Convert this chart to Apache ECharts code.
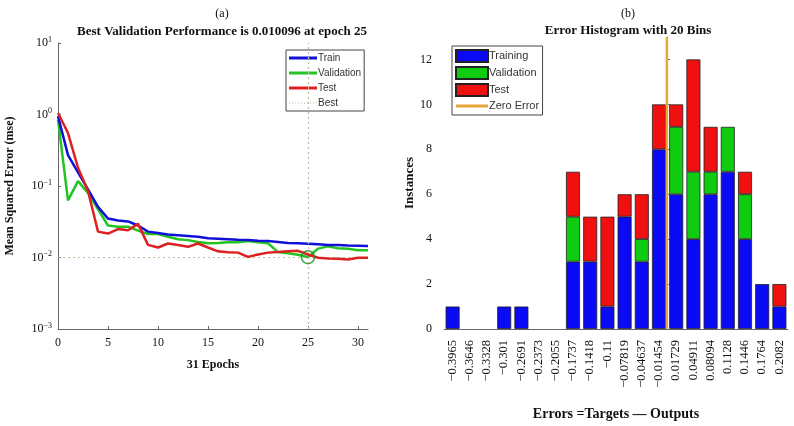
<!DOCTYPE html>
<html>
<head>
<meta charset="utf-8">
<script src="https://cdn.jsdelivr.net/npm/echarts@6/dist/echarts.min.js"></script>
<style>
  html, body { margin: 0; padding: 0; background: #fff; }
  #main { width: 794px; height: 426px; }
</style>
</head>
<body>
<div id="main"></div>
<script>
// (a) performance curves, per epoch
var epochs = [0, 1, 2, 3, 4, 5, 6, 7, 8, 9, 10, 11, 12, 13, 14, 15,
  16, 17, 18, 19, 20, 21, 22, 23, 24, 25, 26, 27, 28, 29, 30, 31];
var trainPerf = [0.95, 0.27, 0.155, 0.09, 0.051, 0.035, 0.033, 0.032, 0.028, 0.023, 0.022,
  0.021, 0.0205, 0.02, 0.0195, 0.0186, 0.0183, 0.018, 0.0177, 0.0175, 0.0172,
  0.017, 0.0165, 0.016, 0.0158, 0.0156, 0.0153, 0.015, 0.0149, 0.0147, 0.0146, 0.0145];
var valPerf = [0.85, 0.063, 0.117, 0.08, 0.047, 0.028, 0.027, 0.027, 0.0238, 0.0213, 0.0213,
  0.0195, 0.018, 0.0175, 0.0165, 0.0158, 0.016, 0.0163, 0.0163, 0.017, 0.0163,
  0.0158, 0.0119, 0.0115, 0.0109, 0.010096, 0.0133, 0.0143, 0.0135, 0.0133, 0.0126, 0.0126];
var testPerf = [1.05, 0.55, 0.18, 0.085, 0.023, 0.0216, 0.025, 0.024, 0.0295, 0.015, 0.0138,
  0.0157, 0.015, 0.0141, 0.0157, 0.0138, 0.0122, 0.0118, 0.0117, 0.0102, 0.011,
  0.0117, 0.0119, 0.0122, 0.0124, 0.011, 0.0099, 0.0097, 0.0096, 0.0094, 0.0099, 0.0099];
var bestEpoch = 25;
var bestPerf = 0.010096;

// (b) error histogram, 20 bins
var binLabels = ['−0.3965', '−0.3646', '−0.3328', '−0.301', '−0.2691', '−0.2373', '−0.2055',
  '−0.1737', '−0.1418', '−0.11', '−0.07819', '−0.04637', '−0.01454', '0.01729', '0.04911',
  '0.08094', '0.1128', '0.1446', '0.1764', '0.2082'];
var trainCounts = [1, 0, 0, 1, 1, 0, 0, 3, 3, 1, 5, 3, 8, 6, 4, 6, 7, 4, 2, 1];
var valCounts   = [0, 0, 0, 0, 0, 0, 0, 2, 0, 0, 0, 1, 0, 3, 3, 1, 2, 2, 0, 0];
var testCounts  = [0, 0, 0, 0, 0, 0, 0, 2, 2, 4, 1, 2, 2, 1, 5, 2, 0, 1, 0, 1];
var zeroError = 0;

var serif = "'Liberation Serif', 'DejaVu Serif', serif";
var sans = "'Liberation Sans Narrow', 'Liberation Sans', Arial, sans-serif";

function pairs(ys) {
  return ys.map(function (y, i) { return [epochs[i], y]; });
}
// empty bins get no rectangle (no outline drawn)
function counts(arr) {
  return arr.map(function (v) { return v === 0 ? '-' : v; });
}

// bin edges for the hidden value axis that carries the zero-error line
var first = -0.3965, last = 0.2082;
var step = (last - first) / (binLabels.length - 1);

// thin line icon inside a 32x12 legend box (tiny corner specks keep the box size)
var lineIcon = 'path://M0,0h0.01v0.01h-0.01z M0,4.5h32v3h-32z M31.99,11.99h0.01v0.01h-0.01z';

var chart = echarts.init(document.getElementById('main'), null, { renderer: 'canvas' });

var option = {
  backgroundColor: '#fff',
  animation: false,
  title: [
    { text: '(a)', left: 217, top: 3, textAlign: 'center',
      textStyle: { fontFamily: serif, fontSize: 12, fontWeight: 'normal', color: '#111' } },
    { text: 'Best Validation Performance is 0.010096 at epoch 25', left: 217, top: 20, textAlign: 'center',
      textStyle: { fontFamily: serif, fontSize: 13, fontWeight: 'bold', color: '#111' } },
    { text: '(b)', left: 623, top: 3, textAlign: 'center',
      textStyle: { fontFamily: serif, fontSize: 12, fontWeight: 'normal', color: '#111' } },
    { text: 'Error Histogram with 20 Bins', left: 623, top: 19, textAlign: 'center',
      textStyle: { fontFamily: serif, fontSize: 13, fontWeight: 'bold', color: '#111' } }
  ],
  legend: [
    {
      data: [
        { name: 'Train', icon: 'rect' },
        { name: 'Validation', icon: 'rect' },
        { name: 'Test', icon: 'rect' },
        { name: 'Best', icon: 'path://M0,0h1v1h-1z M3,0h1v1h-1z M6,0h1v1h-1z M9,0h1v1h-1z M12,0h1v1h-1z M15,0h1v1h-1z M18,0h1v1h-1z M21,0h1v1h-1z M24,0h1v1h-1z M27,0h1v1h-1z' }
      ],
      orient: 'vertical', left: 286, top: 50,
      itemWidth: 28, itemHeight: 3, itemGap: 5,
      padding: [3, 3, 3, 3],
      borderColor: '#444', borderWidth: 1, backgroundColor: '#fff',
      selectedMode: false,
      textStyle: { fontFamily: sans, fontSize: 10, color: '#333', padding: [0, 0, 0, -4] }
    },
    {
      data: [
        { name: 'Training', icon: 'rect' },
        { name: 'Validation ', icon: 'rect' },
        { name: 'Test ', icon: 'rect' },
        { name: 'Zero Error', icon: lineIcon, itemStyle: { borderWidth: 0 } }
      ],
      orient: 'vertical', left: 452, top: 46,
      itemWidth: 32, itemHeight: 12, itemGap: 3,
      padding: [3, 3, 3, 3],
      borderColor: '#444', borderWidth: 1, backgroundColor: '#fff',
      selectedMode: false,
      textStyle: { fontFamily: sans, fontSize: 11, color: '#333', padding: [0, 0, 0, -4] }
    }
  ],
  grid: [
    { left: 58, top: 43, width: 310, height: 286 },
    { left: 444, top: 37, width: 344, height: 292 }
  ],
  xAxis: [
    {
      gridIndex: 0, type: 'value', min: 0, max: 31, interval: 5,
      name: '31 Epochs', nameLocation: 'middle', nameGap: 30,
      nameTextStyle: { fontFamily: serif, fontSize: 12, fontWeight: 'bold', color: '#111' },
      axisLine: { lineStyle: { color: '#666' } },
      axisTick: { inside: true, length: 3, lineStyle: { color: '#666' } },
      axisLabel: { fontFamily: serif, fontSize: 12, color: '#111', margin: 8, showMaxLabel: false },
      splitLine: { show: false }
    },
    {
      gridIndex: 1, type: 'category', data: binLabels,
      name: 'Errors =Targets — Outputs', nameLocation: 'middle', nameGap: 78,
      nameTextStyle: { fontFamily: serif, fontSize: 14, fontWeight: 'bold', color: '#111' },
      axisLine: { lineStyle: { color: '#666' } },
      axisTick: { inside: true, length: 3, alignWithLabel: true, lineStyle: { color: '#666' } },
      axisLabel: { rotate: 90, interval: 0, fontFamily: serif, fontSize: 12.5, color: '#111', margin: 11 },
      splitLine: { show: false }
    },
    {
      gridIndex: 1, type: 'value', show: false,
      min: first - step / 2, max: last + step / 2
    }
  ],
  yAxis: [
    {
      gridIndex: 0, type: 'log', logBase: 10, min: 0.001, max: 10,
      name: 'Mean Squared Error (mse)', nameLocation: 'middle', nameGap: 42,
      nameTextStyle: { fontFamily: serif, fontSize: 12, fontWeight: 'bold', color: '#111' },
      axisLine: { show: true, lineStyle: { color: '#666' } },
      axisTick: { show: true, inside: true, length: 3, lineStyle: { color: '#666' } },
      axisLabel: {
        fontFamily: serif, fontSize: 12, color: '#111', margin: 6,
        formatter: function (v) {
          var e = Math.round(Math.log(v) / Math.LN10);
          return '10{e|' + (e < 0 ? '−' + (-e) : e) + '}';
        },
        rich: { e: { fontFamily: serif, fontSize: 8, color: '#111', padding: [0, 0, 7, 0] } }
      },
      splitLine: { show: false }
    },
    {
      gridIndex: 1, type: 'value', min: 0, max: 13, interval: 2,
      name: 'Instances', nameLocation: 'middle', nameGap: 25,
      nameTextStyle: { fontFamily: serif, fontSize: 13, fontWeight: 'bold', color: '#111' },
      axisLine: { show: true, lineStyle: { color: '#666' } },
      axisTick: { show: true, inside: true, length: 3, lineStyle: { color: '#666' } },
      axisLabel: { fontFamily: serif, fontSize: 12, color: '#111', margin: 12, showMaxLabel: false },
      splitLine: { show: false }
    }
  ],
  series: [
    {
      name: 'Train', type: 'line', xAxisIndex: 0, yAxisIndex: 0,
      data: pairs(trainPerf), showSymbol: false, z: 4,
      itemStyle: { color: '#1010d8' }, lineStyle: { color: '#1010d8', width: 2.5 }
    },
    {
      name: 'Validation', type: 'line', xAxisIndex: 0, yAxisIndex: 0,
      data: pairs(valPerf), showSymbol: false, z: 3,
      itemStyle: { color: '#22c422' }, lineStyle: { color: '#22c422', width: 2.5 }
    },
    {
      name: 'Test', type: 'line', xAxisIndex: 0, yAxisIndex: 0,
      data: pairs(testPerf), showSymbol: false, z: 5,
      itemStyle: { color: '#dd2020' }, lineStyle: { color: '#dd2020', width: 2.5 }
    },
    {
      name: 'Best', type: 'line', xAxisIndex: 0, yAxisIndex: 0,
      data: [], z: 2,
      itemStyle: { color: '#b8c8a8' },
      markLine: {
        silent: true, symbol: 'none', label: { show: false },
        lineStyle: { color: '#b0c4a0', type: [2, 3], width: 1.2 },
        data: [{ xAxis: bestEpoch }, { yAxis: bestPerf }]
      }
    },
    {
      name: 'bestPoint', type: 'scatter', xAxisIndex: 0, yAxisIndex: 0,
      data: [[bestEpoch, bestPerf]], symbol: 'circle', symbolSize: 13, z: 6,
      itemStyle: { color: 'rgba(0,0,0,0)', borderColor: '#1a8a1a', borderWidth: 1.5 }
    },
    {
      name: 'Training', type: 'bar', xAxisIndex: 1, yAxisIndex: 1, stack: 'hist',
      data: counts(trainCounts), barWidth: 14,
      itemStyle: { color: '#0a0af5', borderColor: '#222', borderWidth: 0.8 }
    },
    {
      name: 'Validation ', type: 'bar', xAxisIndex: 1, yAxisIndex: 1, stack: 'hist',
      data: counts(valCounts), barWidth: 14,
      itemStyle: { color: '#10cc10', borderColor: '#222', borderWidth: 0.8 }
    },
    {
      name: 'Test ', type: 'bar', xAxisIndex: 1, yAxisIndex: 1, stack: 'hist',
      data: counts(testCounts), barWidth: 14,
      itemStyle: { color: '#f01010', borderColor: '#222', borderWidth: 0.8 }
    },
    {
      name: 'Zero Error', type: 'line', xAxisIndex: 2, yAxisIndex: 1,
      data: [[zeroError, 0], [zeroError, 13]], showSymbol: false, z: 5,
      itemStyle: { color: '#e8a838' }, lineStyle: { color: '#e8a838', width: 2.5 }
    }
  ]
};

chart.setOption(option);
</script>
</body>
</html>
